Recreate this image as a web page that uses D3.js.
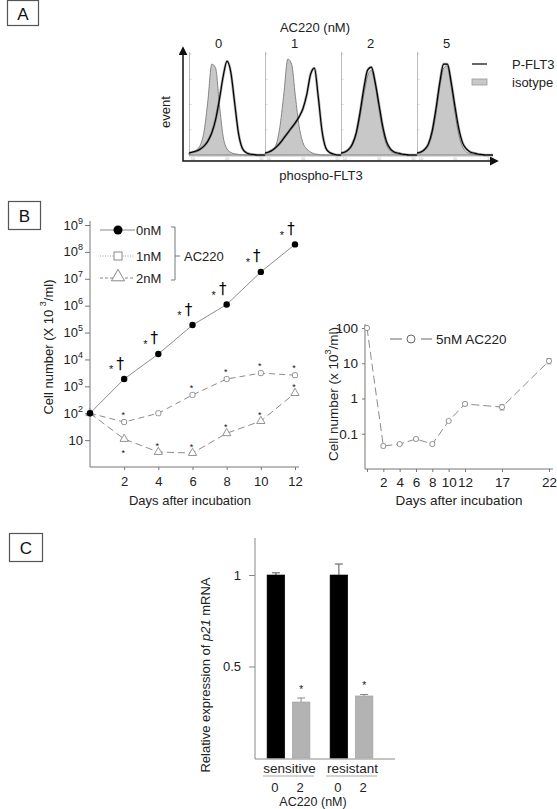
<!DOCTYPE html>
<html><head><meta charset="utf-8">
<script src="https://cdn.jsdelivr.net/npm/d3@7"></script>
<style>body{margin:0;background:#fff}svg{display:block;font-family:Arial,"Liberation Sans",sans-serif}</style>
</head><body><svg id="c" width="557" height="809"></svg>
<script>
// ---------------- DATA ----------------
// Panel A: flow histograms (relative event counts sampled along log fluorescence, 0-100 units)
const doses = ["0","1","2","5"];
const histBins = [0,5,10,15,20,25,30,35,40,45,50,55,60,65,70,75,80,85,90,95,100];
const iso0  = [0.02,0.03,0.05,0.1,0.24,0.55,0.9,0.86,0.5,0.18,0.06,0.025,0.012,0.006,0.003,0,0,0,0,0,0];
const pflt0 = [0.02,0.03,0.04,0.06,0.09,0.14,0.22,0.35,0.55,0.78,0.93,0.82,0.52,0.22,0.07,0.025,0.01,0.005,0,0,0];
const iso1  = [0.02,0.03,0.05,0.11,0.3,0.62,0.95,0.9,0.58,0.28,0.12,0.06,0.03,0.012,0.006,0,0,0,0,0,0];
const pflt1 = [0.02,0.03,0.05,0.08,0.12,0.17,0.22,0.27,0.32,0.38,0.46,0.6,0.8,0.86,0.58,0.24,0.07,0.025,0.01,0,0];
const iso2  = [0.015,0.025,0.05,0.1,0.2,0.38,0.6,0.78,0.84,0.7,0.46,0.24,0.1,0.04,0.02,0.01,0.005,0,0,0,0];
const pflt2 = [0.02,0.03,0.055,0.11,0.22,0.42,0.66,0.84,0.87,0.72,0.5,0.28,0.13,0.06,0.03,0.02,0.01,0.005,0,0,0];
const iso5  = [0.015,0.025,0.05,0.1,0.21,0.42,0.68,0.86,0.88,0.68,0.42,0.2,0.08,0.03,0.015,0.008,0.004,0,0,0,0];
const pflt5 = [0.02,0.03,0.055,0.11,0.24,0.46,0.72,0.9,0.9,0.72,0.48,0.26,0.12,0.06,0.03,0.02,0.01,0.005,0,0,0];
const isoSeries = [iso0, iso1, iso2, iso5];
const pfltSeries = [pflt0, pflt1, pflt2, pflt5];

// Panel B left: cell number (x10^3/ml)
const days = [0,2,4,6,8,10,12];
const nM0 = [100,1870,16000,190000,1100000,18000000,190000000];
const nM1 = [100,47,100,480,1870,3100,2600];
const nM2 = [100,11,3.6,3.3,18,51,560];
const yTicksB = [10,1e2,1e3,1e4,1e5,1e6,1e7,1e8,1e9];
const xTicksB = [2,4,6,8,10,12];
const sigDays0 = [2,4,6,8,10,12];
const sigDays1 = [2,6,8,10,12];
const sigDays2Above = [4,6,8,10,12];
const sigDays2Below = [2];

// Panel B right: 5 nM
const days5 = [0,2,4,6,8,10,12,17,22];
const nM5 = [100,0.045,0.051,0.071,0.051,0.23,0.70,0.57,11.6];
const nM5Err = [0,0.005,0.004,0.005,0.005,0.02,0.08,0.1,2.0];
const xTicks5 = [0,2,4,6,8,10,12,17,22];
const yTicks5 = [0.1,1,10,100];

// Panel C: relative p21 mRNA
const cellGroups = ["sensitive","resistant"];
const dosesC = ["0","2"];
const sensitiveVals = [1.0,0.306];
const sensitiveErr = [0.012,0.022];
const resistantVals = [1.0,0.339];
const resistantErr = [0.06,0.008];
const yTicksC = [0.5,1];

// ---------------- DRAW ----------------
const svg = d3.select("#c");
svg.append("rect").attr("width",557).attr("height",809).attr("fill","#fff");
const defs = svg.append("defs");
defs.append("marker").attr("id","arr").attr("viewBox","0 0 10 10").attr("refX",8).attr("refY",5)
  .attr("markerUnits","userSpaceOnUse").attr("markerWidth",9).attr("markerHeight",9)
  .attr("orient","auto-start-reverse").append("path").attr("d","M0,0L10,5L0,10z").attr("fill","#111");

function panelBox(x,y,w,h,label){
  svg.append("rect").attr("x",x+.5).attr("y",y+.5).attr("width",w).attr("height",h)
    .attr("fill","none").attr("stroke","#555").attr("stroke-width",1.2);
  svg.append("text").attr("x",x+w/2+.5).attr("y",y+h/2+1.5).attr("text-anchor","middle")
    .attr("dominant-baseline","central").attr("font-size",17).attr("fill","#111").text(label);
}
function txt(g,x,y,s,size,anchor,rot){
  const t = g.append("text").attr("x",x).attr("y",y).attr("font-size",size||13)
    .attr("text-anchor",anchor||"middle").attr("dominant-baseline","central").attr("fill","#222").text(s);
  if(rot) t.attr("transform",`rotate(${rot},${x},${y})`);
  return t;
}

// ===== Panel A =====
panelBox(7,0,31,25,"A");
const gA = svg.append("g");
const sub = d3.scaleBand().domain(doses).range([189,493]).padding(0);
const hx = d3.scaleLinear().domain([0,100]).range([0,sub.bandwidth()]);
const hy = d3.scaleLinear().domain([0,1]).range([155,54]);
txt(gA,315,27,"AC220 (nM)",13);
doses.forEach((d,i)=>{
  const g = gA.append("g").attr("transform",`translate(${sub(d)},0)`);
  txt(gA,sub(d)+sub.bandwidth()*0.39,43,d,13);
  g.append("line").attr("x1",0.5).attr("x2",0.5).attr("y1",52).attr("y2",156).attr("stroke","#aaa").attr("stroke-width",0.8);
  g.append("line").attr("x1",0).attr("x2",sub.bandwidth()).attr("y1",156).attr("y2",156).attr("stroke","#aaa").attr("stroke-width",0.8);
  [0.25,0.5,0.75,1].forEach(v=>g.append("line").attr("x1",0.5).attr("x2",2.5).attr("y1",hy(v)).attr("y2",hy(v)).attr("stroke","#bbb").attr("stroke-width",0.6));
  [5,50,95].forEach(v=>{
    g.append("line").attr("x1",hx(v)).attr("x2",hx(v)).attr("y1",156).attr("y2",154).attr("stroke","#bbb").attr("stroke-width",0.6);
    g.append("text").attr("x",hx(v)).attr("y",159.5).attr("font-size",3.5).attr("text-anchor","middle").attr("fill","#aaa").text("10");
  });
  const isoPts = histBins.map((b,k)=>[b,isoSeries[i][k]]);
  const pfPts = histBins.map((b,k)=>[b,pfltSeries[i][k]]);
  g.append("path").datum(isoPts)
    .attr("d",d3.area().x(p=>hx(p[0])).y0(hy(0)).y1(p=>hy(p[1])).curve(d3.curveMonotoneX))
    .attr("fill","#c8c8c8").attr("stroke","#7a7a7a").attr("stroke-width",0.9);
  g.append("path").datum(pfPts)
    .attr("d",d3.line().x(p=>hx(p[0])).y(p=>hy(p[1])).curve(d3.curveMonotoneX))
    .attr("fill","none").attr("stroke","#555").attr("stroke-width",2.6).attr("stroke-opacity",0.5);
  g.append("path").datum(pfPts)
    .attr("d",d3.line().x(p=>hx(p[0])).y(p=>hy(p[1])).curve(d3.curveMonotoneX))
    .attr("fill","none").attr("stroke","#000").attr("stroke-width",1.2);
});
gA.append("path").attr("d","M183,48L183,161L497,161").attr("fill","none").attr("stroke","#111")
  .attr("stroke-width",1.5).attr("marker-start","url(#arr)").attr("marker-end","url(#arr)");
txt(gA,165,112,"event",13,"middle",-90);
txt(gA,321,175,"phospho-FLT3",13);
gA.append("line").attr("x1",472).attr("x2",487).attr("y1",64).attr("y2",64).attr("stroke","#333").attr("stroke-width",1.5);
txt(gA,512,64,"P-FLT3",13,"start");
gA.append("rect").attr("x",472).attr("y",79).attr("width",15).attr("height",6).attr("fill","#c8c8c8").attr("stroke","#999").attr("stroke-width",0.8);
txt(gA,512,82,"isotype",13,"start");

// ===== Panel B left =====
panelBox(8,201,32,28,"B");
const gB = svg.append("g");
const bx = d3.scaleLinear().domain([0,12]).range([90,295]);
const by = d3.scaleLog().domain([1,1e9]).range([467,225]);
const yAx = gB.append("g").attr("transform","translate(90,0)")
  .call(d3.axisLeft(by).tickValues(yTicksB).tickSize(5).tickSizeOuter(0).tickFormat(""));
yAx.select(".domain").remove();
yAx.selectAll("line").attr("stroke","#777");
gB.append("line").attr("x1",90).attr("x2",90).attr("y1",221).attr("y2",467).attr("stroke","#777");
gB.append("line").attr("x1",90).attr("x2",299).attr("y1",467).attr("y2",467).attr("stroke","#777");
yTicksB.forEach(v=>{
  const e = Math.round(Math.log10(v));
  const t = gB.append("text").attr("x",83).attr("y",by(v)+4.5).attr("text-anchor","end").attr("font-size",13).attr("fill","#222");
  t.append("tspan").text("10");
  if(e>1) t.append("tspan").attr("font-size",9).attr("dy",-6).text(e);
});
const xAx = gB.append("g").attr("transform","translate(0,467)")
  .call(d3.axisBottom(bx).tickValues(xTicksB).tickSize(3).tickSizeOuter(0).tickPadding(7));
xAx.select(".domain").remove();
xAx.selectAll("line").attr("stroke","#777");
xAx.selectAll("text").attr("font-size",13).attr("fill","#222").attr("font-family",null);
txt(gB,190,500,"Days after incubation",13);
const yl = gB.append("text").attr("transform","translate(48,347) rotate(-90)").attr("text-anchor","middle")
  .attr("dominant-baseline","central").attr("font-size",13).attr("fill","#222");
yl.append("tspan").text("Cell number (X 10 ");
yl.append("tspan").attr("font-size",9).attr("dy",-5).text("3");
yl.append("tspan").attr("dy",5).text("/ml)");

const lineB = d3.line().x(p=>bx(p[0])).y(p=>by(p[1]));
const s0 = days.map((d,i)=>[d,nM0[i]]), s1 = days.map((d,i)=>[d,nM1[i]]), s2 = days.map((d,i)=>[d,nM2[i]]);
gB.append("path").datum(s2).attr("d",lineB).attr("fill","none").attr("stroke","#8c8c8c").attr("stroke-width",1).attr("stroke-dasharray","7,4");
gB.append("path").datum(s1).attr("d",lineB).attr("fill","none").attr("stroke","#8c8c8c").attr("stroke-width",1).attr("stroke-dasharray","6,4");
gB.append("path").datum(s0).attr("d",lineB).attr("fill","none").attr("stroke","#8c8c8c").attr("stroke-width",1);
s1.forEach(p=>gB.append("rect").attr("x",bx(p[0])-2.5).attr("y",by(p[1])-2.5).attr("width",5).attr("height",5).attr("rx",1.5)
  .attr("fill","#fff").attr("stroke","#888").attr("stroke-width",0.9));
s2.forEach(p=>gB.append("path").attr("transform",`translate(${bx(p[0])},${by(p[1])})`)
  .attr("d",d3.symbol(d3.symbolTriangle,30)).attr("fill","#fff").attr("stroke","#888").attr("stroke-width",0.9));
s0.forEach(p=>gB.append("circle").attr("cx",bx(p[0])).attr("cy",by(p[1])).attr("r",3.2).attr("fill","#000"));
function star(g,x,y,fs){ g.append("text").attr("x",x).attr("y",y+0.57*fs).attr("font-size",fs).attr("text-anchor","middle").attr("fill","#111").text("*"); }
sigDays0.forEach(d=>{
  const v = nM0[days.indexOf(d)];
  star(gB,bx(d)-13,by(v)-12,11);
  gB.append("text").attr("x",bx(d)-4).attr("y",by(v)-15+4.5).attr("font-size",15)
    .attr("font-family","'DejaVu Sans',sans-serif").attr("text-anchor","middle").attr("fill","#000").text("\u2020");
});
sigDays1.forEach(d=>star(gB,bx(d)-1,by(nM1[days.indexOf(d)])-9,9));
sigDays2Above.forEach(d=>star(gB,bx(d)-1,by(nM2[days.indexOf(d)])-8,9));
sigDays2Below.forEach(d=>star(gB,bx(d)-1,by(nM2[days.indexOf(d)])+12,9));
// legend
const legY = [230,256,278];
gB.append("line").attr("x1",100).attr("x2",135).attr("y1",legY[0]).attr("y2",legY[0]).attr("stroke","#888");
gB.append("circle").attr("cx",118).attr("cy",legY[0]).attr("r",4.5).attr("fill","#000");
gB.append("line").attr("x1",100).attr("x2",135).attr("y1",legY[1]).attr("y2",legY[1]).attr("stroke","#999").attr("stroke-dasharray","1,1.5");
gB.append("rect").attr("x",114).attr("y",legY[1]-4).attr("width",8).attr("height",8).attr("fill","#fff").attr("stroke","#888");
gB.append("line").attr("x1",100).attr("x2",135).attr("y1",legY[2]).attr("y2",legY[2]).attr("stroke","#888").attr("stroke-dasharray","3,2");
gB.append("path").attr("transform",`translate(118,${legY[2]-1})`).attr("d",d3.symbol(d3.symbolTriangle,75)).attr("fill","#fff").attr("stroke","#888");
txt(gB,136,legY[0],"0nM",13,"start");
txt(gB,136,legY[1],"1nM",13,"start");
txt(gB,136,legY[2],"2nM",13,"start");
gB.append("path").attr("d","M171,227H175V280H171M175,256H180").attr("fill","none").attr("stroke","#777");
txt(gB,184,256,"AC220",13,"start");

// ===== Panel B right =====
const gR = svg.append("g");
const rx = d3.scaleLinear().domain([0,12,17,22]).range([367,465,502,549]);
const ry = d3.scaleLog().domain([0.01,100]).range([469,328]);
gR.append("line").attr("x1",365).attr("x2",365).attr("y1",324).attr("y2",469).attr("stroke","#777");
gR.append("line").attr("x1",365).attr("x2",553).attr("y1",469).attr("y2",469).attr("stroke","#777");
const rxa = gR.append("g").attr("transform","translate(0,469)")
  .call(d3.axisBottom(rx).tickValues(xTicks5).tickSize(3).tickSizeOuter(0).tickPadding(5).tickFormat(d=>d===0?"":d));
rxa.select(".domain").remove();
rxa.selectAll("line").attr("stroke","#777");
rxa.selectAll("text").attr("font-size",13.5).attr("fill","#222").attr("font-family",null);
const rya = gR.append("g").attr("transform","translate(365,0)")
  .call(d3.axisLeft(ry).tickValues(yTicks5).tickSize(3).tickSizeOuter(0).tickPadding(4).tickFormat(d=>d>=1?d3.format("d")(d):d));
rya.select(".domain").remove();
rya.selectAll("line").attr("stroke","#777");
rya.selectAll("text").attr("font-size",13.5).attr("fill","#222").attr("font-family",null);
txt(gR,459,500,"Days after incubation",13.5);
const yl2 = gR.append("text").attr("transform","translate(333,394) rotate(-90)").attr("text-anchor","middle")
  .attr("dominant-baseline","central").attr("font-size",13.5).attr("fill","#222");
yl2.append("tspan").text("Cell number (x 10");
yl2.append("tspan").attr("font-size",9).attr("dy",-5).text("3");
yl2.append("tspan").attr("dy",5).text("/ml)");
const s5 = days5.map((d,i)=>[d,nM5[i],nM5Err[i]]);
gR.append("path").datum(s5).attr("d",d3.line().x(p=>rx(p[0])).y(p=>ry(p[1])))
  .attr("fill","none").attr("stroke","#8c8c8c").attr("stroke-width",1).attr("stroke-dasharray","8,4");
s5.forEach(p=>{
  if(p[2]>0){
    gR.append("line").attr("x1",rx(p[0])).attr("x2",rx(p[0])).attr("y1",ry(p[1]-p[2])).attr("y2",ry(p[1]+p[2])).attr("stroke","#888").attr("stroke-width",0.8);
    [p[1]-p[2],p[1]+p[2]].forEach(v=>gR.append("line").attr("x1",rx(p[0])-2.5).attr("x2",rx(p[0])+2.5).attr("y1",ry(v)).attr("y2",ry(v)).attr("stroke","#888").attr("stroke-width",0.8));
  }
  gR.append("circle").attr("cx",rx(p[0])).attr("cy",ry(p[1])).attr("r",2.6).attr("fill","#fff").attr("stroke","#888").attr("stroke-width",0.9);
});
gR.append("line").attr("x1",390).attr("x2",402).attr("y1",339).attr("y2",339).attr("stroke","#666");
gR.append("circle").attr("cx",411).attr("cy",339).attr("r",4).attr("fill","#fff").attr("stroke","#666");
gR.append("line").attr("x1",421).attr("x2",432).attr("y1",339).attr("y2",339).attr("stroke","#666");
txt(gR,436,339,"5nM AC220",13.5,"start");

// ===== Panel C =====
panelBox(9,533,33,28,"C");
const gC = svg.append("g");
const cg = d3.scaleBand().domain(cellGroups).range([257,383]);
const cd = d3.scaleBand().domain(dosesC).range([0,cg.bandwidth()]).paddingInner(0.3).paddingOuter(0.4);
const cy = d3.scaleLinear().domain([0,1]).range([758,575]);
gC.append("line").attr("x1",255).attr("x2",255).attr("y1",538).attr("y2",759).attr("stroke","#888");
gC.append("line").attr("x1",255).attr("x2",395).attr("y1",759).attr("y2",759).attr("stroke","#888");
const cya = gC.append("g").attr("transform","translate(255,0)")
  .call(d3.axisLeft(cy).tickValues(yTicksC).tickSize(6).tickSizeOuter(0).tickPadding(8).tickFormat(d=>d));
cya.select(".domain").remove();
cya.selectAll("line").attr("stroke","#888");
cya.selectAll("text").attr("font-size",13).attr("fill","#222").attr("font-family",null);
const valsByGroup = [sensitiveVals, resistantVals];
const errByGroup = [sensitiveErr, resistantErr];
cellGroups.forEach((grp,gi)=>{
  const g0 = cg(grp);
  dosesC.forEach((d,di)=>{
    const v = valsByGroup[gi][di], e = errByGroup[gi][di];
    const x = g0 + cd(d), w = cd.bandwidth(), cx = x + w/2;
    const col = di===0 ? "#000" : "#b3b3b3";
    gC.append("line").attr("x1",cx).attr("x2",cx).attr("y1",cy(v)).attr("y2",cy(v+e)).attr("stroke",di===0?"#555":"#888");
    gC.append("line").attr("x1",cx-4).attr("x2",cx+4).attr("y1",cy(v+e)).attr("y2",cy(v+e)).attr("stroke",di===0?"#555":"#888");
    gC.append("rect").attr("x",x).attr("y",cy(v)).attr("width",w).attr("height",cy(0)-cy(v)).attr("fill",col)
      .attr("stroke",di===0?"#000":"#a0a0a0").attr("stroke-width",0.6);
    if(di===1) star(gC,cx,cy(v+e)-11,10);
    txt(gC,cx-1,787,d,13);
  });
  txt(gC,g0+cg.bandwidth()/2+1,768,grp,13.5);
  gC.append("line").attr("x1",g0+6).attr("x2",g0+cg.bandwidth()-6).attr("y1",776).attr("y2",776).attr("stroke","#aaa");
});
gC.append("text").attr("x",313).attr("y",806).attr("text-anchor","middle").attr("font-size",12.5).attr("fill","#222").text("AC220 (nM)");
const yl3 = gC.append("text").attr("transform","translate(205,675) rotate(-90)").attr("text-anchor","middle")
  .attr("dominant-baseline","central").attr("font-size",13).attr("fill","#222");
yl3.append("tspan").text("Relative expression of ");
yl3.append("tspan").attr("font-style","italic").text("p21");
yl3.append("tspan").text(" mRNA");
</script></body></html>
